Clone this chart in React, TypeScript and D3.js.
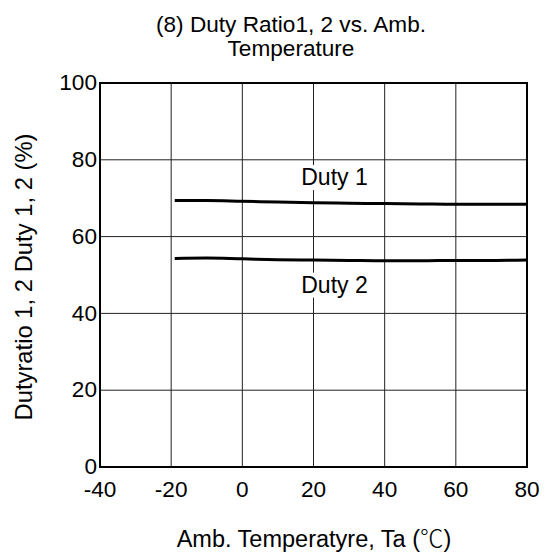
import React from "react";
import * as d3 from "d3";

const temps = [-19, -10, 0, 10, 20, 30, 40, 50, 60, 70, 80];
const duty1 = [69.4, 69.4, 69.2, 69.0, 68.8, 68.7, 68.6, 68.5, 68.4, 68.4, 68.4];
const duty2 = [54.3, 54.4, 54.2, 54.0, 53.9, 53.8, 53.7, 53.7, 53.8, 53.8, 53.9];
const xTicks = [-40, -20, 0, 20, 40, 60, 80];
const yTicks = [0, 20, 40, 60, 80, 100];
const seriesLabels = [
    { text: "Duty 1", t: 20, v: 75.5 },
    { text: "Duty 2", t: 20, v: 47.5 },
];

const W = 557;
const H = 558;
const margin = { top: 83, right: 30, bottom: 91, left: 100 };
const font = "'Liberation Sans', Arial, sans-serif";

const App = () => {
    const x = d3.scaleLinear().domain([-40, 80]).range([margin.left, W - margin.right]);
    const y = d3.scaleLinear().domain([0, 100]).range([H - margin.bottom, margin.top]);

    const line = d3
        .line<number>()
        .x((d, i) => x(temps[i]))
        .y(d => y(d))
        .curve(d3.curveMonotoneX);

    return (
        <svg width={W} height={H} style={{ position: "absolute", left: 0, top: 0 }} fontFamily={font}>
            <rect width={W} height={H} fill="white" />
            <text x={291} y={32} textAnchor="middle" fontSize="22.6">(8) Duty Ratio1, 2 vs. Amb.</text>
            <text x={291} y={56} textAnchor="middle" fontSize="22.6">Temperature</text>

            {/* grid */}
            {xTicks.map(t => (
                <line key={"gx" + t} x1={x(t)} x2={x(t)} y1={y(0)} y2={y(100)} stroke="#222" strokeWidth="1" />
            ))}
            {yTicks.map(t => (
                <line key={"gy" + t} x1={x(-40)} x2={x(80)} y1={y(t)} y2={y(t)} stroke="#222" strokeWidth="1" />
            ))}
            <rect x={x(-40)} y={y(100)} width={x(80) - x(-40)} height={y(0) - y(100)} fill="none" stroke="black" strokeWidth="2" />

            {/* curve labels with white boxes */}
            {seriesLabels.map(l => (
                <g key={l.text}>
                    <rect x={x(l.t) - 36} y={y(l.v) - 12} width={74} height={25} fill="white" />
                    <text x={x(l.t) + 21} y={y(l.v)} dy="0.36em" textAnchor="middle" fontSize="23">{l.text}</text>
                </g>
            ))}

            <path d={line(duty1) || ""} fill="none" stroke="black" strokeWidth="3" />
            <path d={line(duty2) || ""} fill="none" stroke="black" strokeWidth="3" />

            {/* y ticks */}
            {yTicks.map(t => (
                <text key={"ty" + t} x={x(-40) - 3} y={y(t) - 1} dy="0.36em" textAnchor="end" fontSize="22.6">{t}</text>
            ))}
            {/* x ticks */}
            {xTicks.map(t => (
                <text key={"tx" + t} x={x(t)} y={497} textAnchor="middle" fontSize="22.6">{t}</text>
            ))}

            <text x={314} y={547} textAnchor="middle" fontSize="23.5">
                Amb. Temperatyre, Ta (<tspan fontFamily="'Noto Sans CJK JP'" fontWeight="300">℃</tspan>)
            </text>
            <text transform={`translate(32, 277) rotate(-90)`} textAnchor="middle" fontSize="23.8">
                Dutyratio 1, 2 Duty 1, 2 (%)
            </text>
        </svg>
    );
};

export default App;
